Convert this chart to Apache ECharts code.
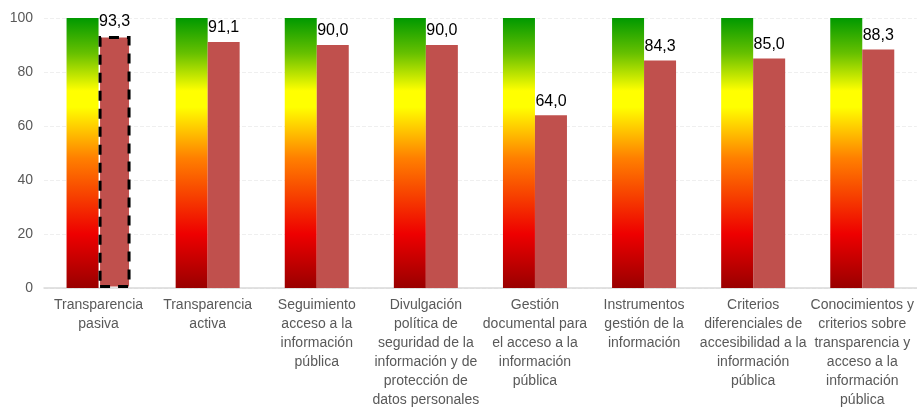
<!DOCTYPE html>
<html>
<head>
<meta charset="utf-8">
<script src="https://cdn.jsdelivr.net/npm/echarts@6/dist/echarts.min.js"></script>
<style>html,body{margin:0;padding:0;background:#fff}#c{width:917px;height:418px}</style>
</head>
<body>
<div id="c"></div>
<script>
var categories = [
  "Transparencia\npasiva",
  "Transparencia\nactiva",
  "Seguimiento\nacceso a la\ninformación\npública",
  "Divulgación\npolítica de\nseguridad de la\ninformación y de\nprotección de\ndatos personales",
  "Gestión\ndocumental para\nel acceso a la\ninformación\npública",
  "Instrumentos\ngestión de la\ninformación",
  "Criterios\ndiferenciales de\naccesibilidad a la\ninformación\npública",
  "Conocimientos y\ncriterios sobre\ntransparencia y\nacceso a la\ninformación\npública"
];
var scaleValues = [100, 100, 100, 100, 100, 100, 100, 100];
var scores = [93.3, 91.1, 90.0, 90.0, 64.0, 84.3, 85.0, 88.3];
var yTicks = [0, 20, 40, 60, 80, 100];

var FONT = "'Liberation Sans Narrow','Arial Narrow','Liberation Sans',sans-serif";
var chart = echarts.init(document.getElementById('c'));
var grad = new echarts.graphic.LinearGradient(0, 0, 0, 1, [
  {offset: 0, color: '#009900'},
  {offset: 0.13, color: '#66c000'},
  {offset: 0.27, color: '#ffff00'},
  {offset: 0.33, color: '#ffff00'},
  {offset: 0.52, color: '#ff7f00'},
  {offset: 0.80, color: '#ee0000'},
  {offset: 1, color: '#990000'}
]);
chart.setOption({
  animation: false,
  grid: {left: 44, right: 0, top: 18, bottom: 130, containLabel: false},
  xAxis: {
    type: 'category',
    data: categories,
    axisTick: {show: false},
    axisLine: {lineStyle: {color: '#d9d9d9', width: 1.5}},
    axisLabel: {color: '#595959', fontFamily: FONT, fontSize: 14, lineHeight: 19, interval: 0, margin: 8}
  },
  yAxis: {
    type: 'value',
    min: yTicks[0],
    max: yTicks[yTicks.length - 1],
    interval: 20,
    axisLine: {show: false},
    axisTick: {show: false},
    axisLabel: {color: '#595959', fontFamily: FONT, fontSize: 14, margin: 11},
    splitLine: {lineStyle: {color: '#efefef', type: 'dashed'}}
  },
  series: [
    {
      type: 'bar',
      data: scaleValues,
      barWidth: 32,
      barGap: '0%',
      itemStyle: {color: grad},
      silent: true
    },
    {
      type: 'bar',
      barWidth: 32,
      barGap: '0%',
      data: scores.map(function (v, i) {
        var d = {value: v};
        if (i === 0) d.itemStyle = {color: '#C0504D', borderColor: '#000', borderWidth: 3, borderType: [10, 8]};
        return d;
      }),
      itemStyle: {color: '#C0504D'},
      label: {
        show: true,
        position: 'top',
        distance: 6,
        color: '#000',
        fontFamily: FONT,
        fontSize: 16,
        formatter: function (p) { return p.value.toFixed(1).replace('.', ','); }
      }
    }
  ]
});
</script>
</body>
</html>
